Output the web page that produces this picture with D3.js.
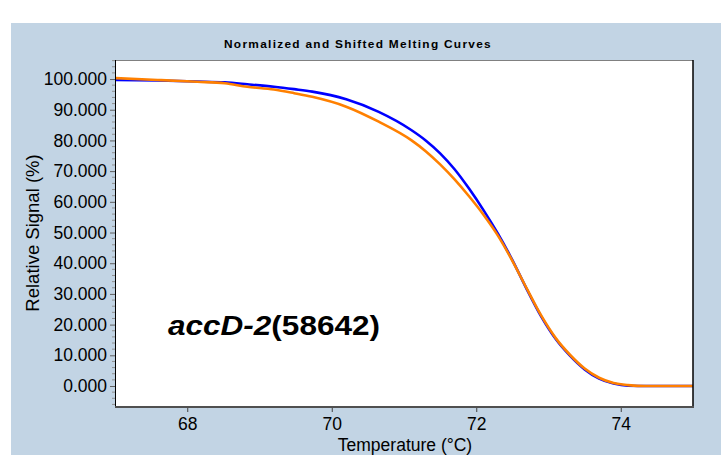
<!DOCTYPE html>
<html>
<head>
<meta charset="utf-8">
<script src="https://cdn.jsdelivr.net/npm/d3@7"></script>
<style>
  html, body { margin: 0; padding: 0; background: #ffffff; }
  svg { display: block; }
</style>
</head>
<body>
<svg id="chart" width="721" height="455"></svg>
<script>
// ---- data ----
const chartTitle = "Normalized and Shifted Melting Curves";
const xLabel = "Temperature (°C)";
const yLabel = "Relative Signal (%)";
const xTicks = [68, 70, 72, 74];
const yTicks = [0, 10, 20, 30, 40, 50, 60, 70, 80, 90, 100];

const blueTemp = [67.00, 67.59, 68.14, 68.52, 68.83, 69.20, 69.48, 69.73, 70.20, 70.65, 71.10, 71.30, 71.50, 71.70, 71.90, 72.10, 72.30, 72.50, 72.70, 72.90, 73.10, 73.30, 73.50, 73.70, 73.90, 74.10, 74.40, 75.00];
const blueSignal = [99.7, 99.5, 99.2, 98.9, 98.3, 97.5, 96.7, 95.9, 93.4, 89.3, 83.4, 80.0, 75.8, 70.6, 64.3, 57.3, 49.6, 41.0, 31.5, 22.6, 15.3, 9.8, 5.4, 2.4, 0.8, 0.1, 0.0, 0.0];

const orangeTemp = [67.00, 67.59, 68.14, 68.52, 68.83, 69.20, 69.48, 69.73, 70.20, 70.65, 71.10, 71.30, 71.50, 71.70, 71.90, 72.10, 72.30, 72.50, 72.70, 72.90, 73.10, 73.30, 73.50, 73.70, 73.90, 74.10, 74.35, 75.00];
const orangeSignal = [100.3, 99.7, 99.1, 98.6, 97.5, 96.6, 95.4, 94.2, 91.0, 86.1, 80.1, 76.5, 72.2, 67.3, 61.8, 55.8, 49.0, 40.8, 31.7, 22.9, 15.6, 10.1, 5.7, 2.7, 1.0, 0.3, 0.0, 0.0];

const annotationItalic = "accD-2";
const annotationPlain = "(58642)";

// ---- layout ----
const svg = d3.select("#chart");
const W = 721, H = 455;
const plot = { left: 115, top: 60, right: 693, bottom: 407 };

svg.append("rect").attr("x", 11).attr("y", 23).attr("width", W - 11).attr("height", H - 23)
  .attr("fill", "#c2d4e4");

const x = d3.scaleLinear().domain([67, 75]).range([plot.left, plot.right]);
const y = d3.scaleLinear().domain([-6.84, 106.2]).range([plot.bottom, plot.top]);

svg.append("rect").attr("x", plot.left).attr("y", plot.top)
  .attr("width", plot.right - plot.left).attr("height", plot.bottom - plot.top)
  .attr("fill", "#ffffff");

svg.append("defs").append("clipPath").attr("id", "clip")
  .append("rect").attr("x", plot.left).attr("y", plot.top)
  .attr("width", plot.right - plot.left).attr("height", plot.bottom - plot.top);

// title
svg.append("text").attr("x", 358).attr("y", 48).attr("text-anchor", "middle")
  .attr("font-family", "Liberation Sans, Arial, sans-serif").attr("font-weight", "bold")
  .attr("font-size", 11).attr("letter-spacing", "1.2px")
  .attr("textLength", 268).attr("lengthAdjust", "spacingAndGlyphs")
  .attr("fill", "#000").text(chartTitle);

// y minor ticks
const yMinor = d3.range(-6, 107, 2).filter(v => v % 10 !== 0);
svg.append("g").selectAll("line").data(yMinor).join("line")
  .attr("x1", plot.left - 3).attr("x2", plot.left)
  .attr("y1", d => y(d)).attr("y2", d => y(d))
  .attr("stroke", "#909090").attr("stroke-width", 1);

// y axis
const yAxis = d3.axisLeft(y).tickValues(yTicks).tickFormat(d3.format(".3f")).tickSize(5).tickPadding(3);
const gy = svg.append("g").attr("transform", `translate(${plot.left},0)`).call(yAxis);
gy.select(".domain").remove();
gy.selectAll(".tick line").attr("stroke", "#606060");
gy.selectAll(".tick text").attr("font-family", "Liberation Sans, Arial, sans-serif")
  .attr("font-size", 17.5).attr("fill", "#000");

// x axis
const xAxis = d3.axisBottom(x).tickValues(xTicks).tickFormat(d3.format("d")).tickSize(5).tickPadding(6);
const gx = svg.append("g").attr("transform", `translate(0,${plot.bottom})`).call(xAxis);
gx.select(".domain").remove();
gx.selectAll(".tick line").attr("stroke", "#404040");
gx.selectAll(".tick text").attr("font-family", "Liberation Sans, Arial, sans-serif")
  .attr("font-size", 17.5).attr("fill", "#000");

// axis labels
svg.append("text").attr("x", 405).attr("y", 451).attr("text-anchor", "middle")
  .attr("font-family", "Liberation Sans, Arial, sans-serif").attr("font-size", 17.5)
  .attr("fill", "#000").text(xLabel);
svg.append("text").attr("transform", "translate(39,233) rotate(-90)").attr("text-anchor", "middle")
  .attr("font-family", "Liberation Sans, Arial, sans-serif").attr("font-size", 18.5)
  .attr("fill", "#000").text(yLabel);

// curves
const line = d3.line().x(d => x(d[0])).y(d => y(d[1])).curve(d3.curveMonotoneX);
const blue = blueTemp.map((t, i) => [t, blueSignal[i]]);
const orange = orangeTemp.map((t, i) => [t, orangeSignal[i]]);
const gc = svg.append("g").attr("clip-path", "url(#clip)");
gc.append("path").datum(blue).attr("d", line).attr("fill", "none")
  .attr("stroke", "#0000ff").attr("stroke-width", 2.6);
gc.append("path").datum(orange).attr("d", line).attr("fill", "none")
  .attr("stroke", "#ff8000").attr("stroke-width", 2.6);

// annotation
const ann = svg.append("text").attr("x", 168).attr("y", 335)
  .attr("font-family", "Liberation Sans, Arial, sans-serif").attr("font-weight", "bold")
  .attr("font-size", 27).attr("fill", "#000")
  .attr("textLength", 212).attr("lengthAdjust", "spacingAndGlyphs");
ann.append("tspan").attr("font-style", "italic").text(annotationItalic);
ann.append("tspan").text(annotationPlain);

// plot border
svg.append("line").attr("x1", plot.left).attr("x2", plot.right).attr("y1", plot.top + 0.5).attr("y2", plot.top + 0.5)
  .attr("stroke", "#808080").attr("stroke-width", 1);
svg.append("line").attr("x1", plot.left + 0.5).attr("x2", plot.left + 0.5).attr("y1", plot.top).attr("y2", plot.bottom)
  .attr("stroke", "#000").attr("stroke-width", 1);
svg.append("line").attr("x1", plot.right).attr("x2", plot.right).attr("y1", plot.top).attr("y2", plot.bottom)
  .attr("stroke", "#000").attr("stroke-width", 1.5);
svg.append("line").attr("x1", plot.left).attr("x2", plot.right + 1).attr("y1", plot.bottom).attr("y2", plot.bottom)
  .attr("stroke", "#505050").attr("stroke-width", 2);
</script>
</body>
</html>
